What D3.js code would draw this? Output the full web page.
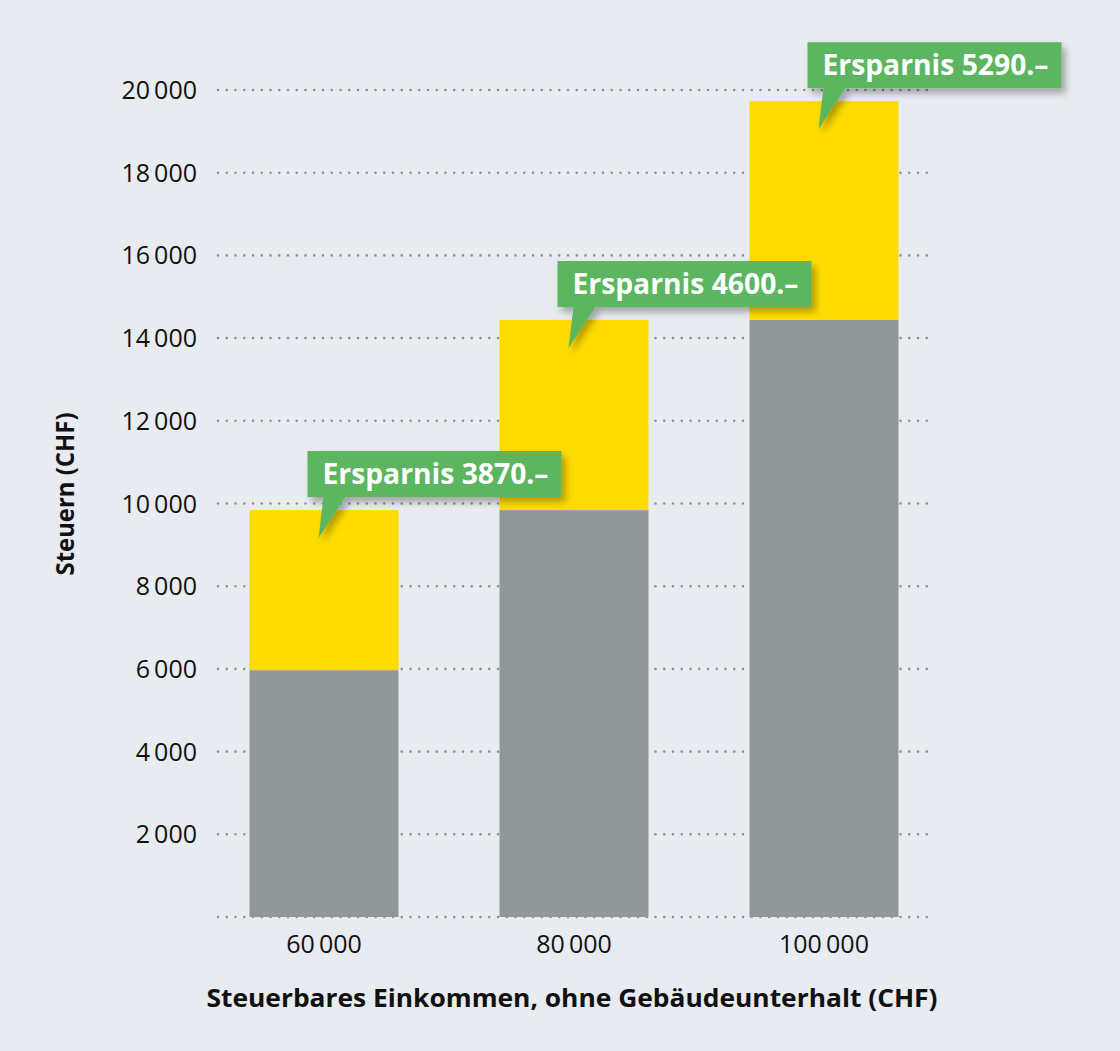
<!DOCTYPE html>
<html>
<head>
<meta charset="utf-8">
<script src="https://cdn.jsdelivr.net/npm/d3@7"></script>
<style>
  html, body { margin: 0; padding: 0; background: #e8ebef; }
  svg { display: block; }
</style>
</head>
<body>
<script>
const categories = ["60\u2009000", "80\u2009000", "100\u2009000"];
const baseTax = [5970, 9840, 14440];
const savings = [3870, 4600, 5290];
const savingsLabels = ["Ersparnis 3870.–", "Ersparnis 4600.–", "Ersparnis 5290.–"];
const yTicks = [2000, 4000, 6000, 8000, 10000, 12000, 14000, 16000, 18000, 20000];
const yTickLabels = ["2\u2009000", "4\u2009000", "6\u2009000", "8\u2009000", "10\u2009000", "12\u2009000", "14\u2009000", "16\u2009000", "18\u2009000", "20\u2009000"];
const yTitle = "Steuern (CHF)";
const xTitle = "Steuerbares Einkommen, ohne Gebäudeunterhalt (CHF)";

const W = 1120, H = 1051;
const colors = { bg: "#e8ebef", base: "#8f9799", save: "#ffdc00", green: "#5cb55e", grid: "#8c9396", text: "#111111" };

const svg = d3.select("body").append("svg").attr("width", W).attr("height", H);
svg.append("rect").attr("width", W).attr("height", H).attr("fill", colors.bg);

const defs = svg.append("defs");
const f = defs.append("filter").attr("id", "shadow").attr("x", "-20%").attr("y", "-30%").attr("width", "150%").attr("height", "180%");
f.append("feDropShadow").attr("dx", 4).attr("dy", 5).attr("stdDeviation", 3.5).attr("flood-color", "#000").attr("flood-opacity", 0.3);

const x = d3.scaleBand().domain(categories).range([199, 949]).paddingInner(0.404).paddingOuter(0.202);
const y = d3.scaleLinear().domain([0, 20000]).range([917, 90]);

// gridlines (including 0)
const gridVals = [0].concat(yTicks);
svg.append("g").selectAll("line").data(gridVals).join("line")
  .attr("x1", 218).attr("x2", 930)
  .attr("y1", d => y(d)).attr("y2", d => y(d))
  .attr("stroke", colors.grid).attr("stroke-width", 2.6)
  .attr("stroke-linecap", "round").attr("stroke-dasharray", "0 8.75");

// y tick labels
svg.append("g").selectAll("text").data(yTicks).join("text")
  .attr("x", 197).attr("y", d => y(d))
  .attr("dy", "0.36em")
  .attr("text-anchor", "end")
  .attr("font-family", "Open Sans, sans-serif").attr("font-size", 25)
  .attr("fill", colors.text)
  .text((d, i) => yTickLabels[i]);

// bars
const data = categories.map((c, i) => ({ c, base: baseTax[i], save: savings[i], label: savingsLabels[i] }));
const bars = svg.append("g");
bars.selectAll("rect.base").data(data).join("rect").attr("class", "base")
  .attr("x", d => x(d.c)).attr("width", x.bandwidth())
  .attr("y", d => y(d.base)).attr("height", d => y(0) - y(d.base))
  .attr("fill", colors.base);
bars.selectAll("rect.save").data(data).join("rect").attr("class", "save")
  .attr("x", d => x(d.c)).attr("width", x.bandwidth())
  .attr("y", d => y(d.base + d.save)).attr("height", d => y(d.base) - y(d.base + d.save))
  .attr("fill", colors.save);

// x labels
svg.append("g").selectAll("text").data(categories).join("text")
  .attr("x", d => x(d) + x.bandwidth() / 2).attr("y", 953)
  .attr("text-anchor", "middle")
  .attr("font-family", "Open Sans, sans-serif").attr("font-size", 25)
  .attr("fill", colors.text)
  .text(d => d);

// callouts
const bw = 254, bh = 46;
const callouts = svg.append("g").selectAll("g").data(data).join("g")
  .attr("transform", d => `translate(${x(d.c) + 58},${y(d.base + d.save) - 59})`);
callouts.append("path")
  .attr("d", `M0,0 H${bw} V${bh} H38 L11,${bh + 41} L16,${bh} H0 Z`)
  .attr("fill", colors.green)
  .attr("filter", "url(#shadow)");
callouts.append("text")
  .attr("x", 15).attr("y", 33)
  .attr("font-family", "Open Sans, sans-serif").attr("font-weight", 700).attr("font-size", 28)
  .attr("fill", "#fff")
  .attr("textLength", 226).attr("lengthAdjust", "spacingAndGlyphs")
  .text(d => d.label);

// axis titles
svg.append("text")
  .attr("transform", "translate(74,494) rotate(-90)")
  .attr("text-anchor", "middle")
  .attr("font-family", "Open Sans, sans-serif").attr("font-weight", 700).attr("font-size", 25)
  .attr("fill", colors.text)
  .attr("textLength", 163).attr("lengthAdjust", "spacingAndGlyphs")
  .text(yTitle);

svg.append("text")
  .attr("x", 572).attr("y", 1007)
  .attr("text-anchor", "middle")
  .attr("font-family", "Open Sans, sans-serif").attr("font-weight", 700).attr("font-size", 25)
  .attr("fill", colors.text)
  .attr("textLength", 731).attr("lengthAdjust", "spacingAndGlyphs")
  .text(xTitle);
</script>
</body>
</html>
